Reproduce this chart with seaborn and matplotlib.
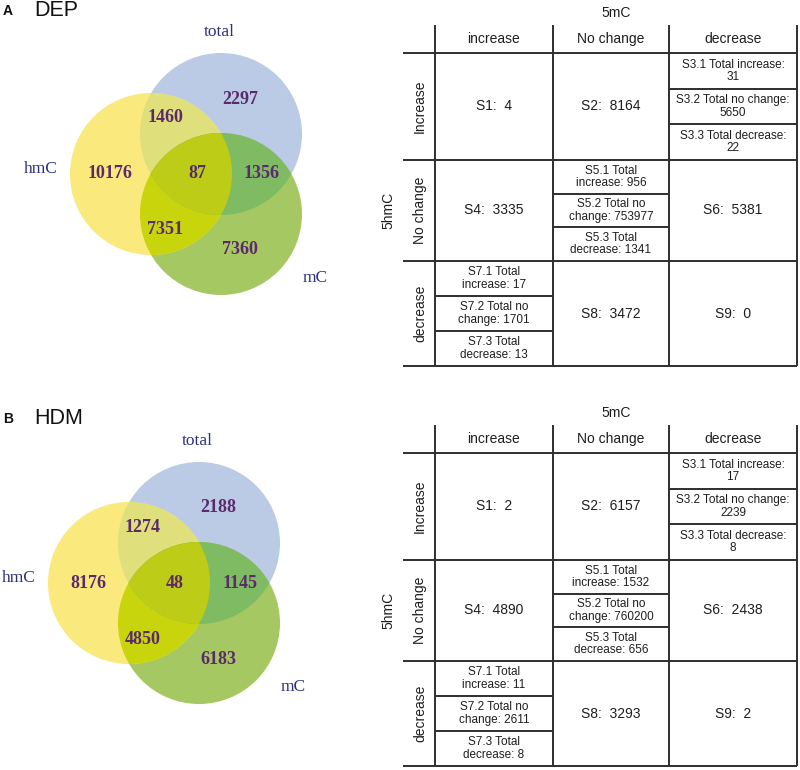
import matplotlib
matplotlib.use("Agg")
import numpy as np
import matplotlib.pyplot as plt
from matplotlib.patches import Circle, Polygon
import seaborn as sns

# ---------------- data ----------------
panel_letters = ["A", "B"]
panel_titles = ["DEP", "HDM"]
set_names = ["hmC", "total", "mC"]
# region order: hmC only, total only, mC only, hmC&total, hmC&mC, total&mC, all three
dep_venn = [10176, 2297, 7360, 1460, 7351, 1356, 87]
hdm_venn = [8176, 2188, 6183, 1274, 4850, 1145, 48]

col_header = "5mC"
row_header = "5hmC"
col_labels = ["increase", "No change", "decrease"]
row_labels = ["Increase", "No change", "decrease"]

dep_main = [4, 8164, 3335, 5381, 3472, 0]      # S1, S2, S4, S6, S8, S9
dep_s3 = [31, 5650, 22]
dep_s5 = [956, 753977, 1341]
dep_s7 = [17, 1701, 13]

hdm_main = [2, 6157, 4890, 2438, 3293, 2]
hdm_s3 = [17, 2239, 8]
hdm_s5 = [1532, 760200, 656]
hdm_s7 = [11, 2611, 8]

# ---------------- style ----------------
sns.set_theme(style="white")
SANS = ["Liberation Sans", "DejaVu Sans"]
SERIF = ["Liberation Serif", "DejaVu Serif"]
plt.rcParams["font.family"] = SANS

# region fill colours
col_y, col_b, col_g = sns.color_palette(["#fae97c", "#bbcbe6", "#a5c862"])
col_yb, col_yg, col_bg, col_all = sns.color_palette(["#dfdf7b", "#c8d40c", "#7ebb62", "#bdcc16"])
num_color = "#5a2a6c"
lab_color = "#2b3180"
line_color = "#2e2e2e"
txt_color = "#1e1e1e"

fig = plt.figure(figsize=(8, 7.7), dpi=100)
ax = fig.add_axes([0, 0, 1, 1])
ax.set_xlim(0, 800)
ax.set_ylim(770, 0)
ax.axis("off")

R = 81
# region label offsets relative to hmC circle centre
region_off = [(-41, 0), (89, -75), (89, 76), (14, -56), (14, 56), (111, 0), (46, 0)]


def lens(c1, c2, r):
    c1 = np.asarray(c1, float)
    c2 = np.asarray(c2, float)
    d = np.linalg.norm(c2 - c1)
    phi = np.arctan2(*(c2 - c1)[::-1])
    al = np.arccos(d / (2 * r))
    t1 = np.linspace(phi - al, phi + al, 200)
    t2 = np.linspace(phi + np.pi - al, phi + np.pi + al, 200)
    p1 = np.c_[c1[0] + r * np.cos(t1), c1[1] + r * np.sin(t1)]
    p2 = np.c_[c2[0] + r * np.cos(t2), c2[1] + r * np.sin(t2)]
    return np.vstack([p1, p2])


def draw_venn(anchor, counts):
    ax0, ay0 = anchor
    cy_ = (ax0, ay0)
    cb_ = (ax0 + 70, ay0 - 40)
    cg_ = (ax0 + 70, ay0 + 40)
    circ = {}
    for key, c, col in [("b", cb_, col_b), ("g", cg_, col_g), ("y", cy_, col_y)]:
        p = Circle(c, R, facecolor=col, edgecolor="none")
        ax.add_patch(p)
        circ[key] = (c, p)
    # pairwise overlaps: circle clipped by another circle
    for a, b, col in [("y", "b", col_yb), ("y", "g", col_yg), ("b", "g", col_bg)]:
        p = Circle(circ[a][0], R, facecolor=col, edgecolor="none")
        ax.add_patch(p)
        p.set_clip_path(circ[b][1])
    # triple overlap: yellow/blue lens clipped by green circle
    tri = Polygon(lens(cy_, cb_, R), closed=True, facecolor=col_all, edgecolor="none")
    ax.add_patch(tri)
    tri.set_clip_path(circ["g"][1])

    for (dx, dy), v in zip(region_off, counts):
        ax.text(ax0 + dx, ay0 + dy, str(v), ha="center", va="center",
                family=SERIF, fontweight="bold", fontsize=13, color=num_color)
    ax.text(ax0 - 110, ay0 - 5, set_names[0], ha="center", va="center",
            family=SERIF, fontsize=12.5, color=lab_color)
    ax.text(ax0 + 68, ay0 - 142, set_names[1], ha="center", va="center",
            family=SERIF, fontsize=12.5, color=lab_color)
    ax.text(ax0 + 164, ay0 + 104, set_names[2], ha="center", va="center",
            family=SERIF, fontsize=12.5, color=lab_color)


def draw_table(y0, main, s3, s5, s7):
    xs = [435, 553, 669, 797]
    xl = 403
    hh = 28
    rh = [107, 101, 105]
    ys = [y0, y0 + hh]
    for h in rh:
        ys.append(ys[-1] + h)
    lw = 1.4
    for x in xs:
        ax.plot([x, x], [ys[0], ys[-1]], color=line_color, lw=lw, solid_capstyle="butt")
    for y in ys[1:]:
        ax.plot([xl, xs[-1]], [y, y], color=line_color, lw=lw, solid_capstyle="butt")
    ax.text((xs[0] + xs[-1]) / 2, y0 - 12, col_header, ha="center", va="center",
            fontsize=10, color=txt_color)
    ax.text(388, (ys[2] + ys[3]) / 2, row_header, ha="center", va="center",
            fontsize=10, rotation=90, color=txt_color)
    for i, lab in enumerate(col_labels):
        ax.text((xs[i] + xs[i + 1]) / 2, (ys[0] + ys[1]) / 2, lab, ha="center",
                va="center", fontsize=10, color=txt_color)
    for j, lab in enumerate(row_labels):
        ax.text(420, (ys[j + 1] + ys[j + 2]) / 2, lab, ha="center", va="center",
                fontsize=10, rotation=90, color=txt_color)
    cells = [(0, 0, "S1"), (0, 1, "S2"), (1, 0, "S4"), (1, 2, "S6"), (2, 1, "S8"), (2, 2, "S9")]
    for (r, c, name), v in zip(cells, main):
        ax.text((xs[c] + xs[c + 1]) / 2, (ys[r + 1] + ys[r + 2]) / 2,
                f"{name}:  {v}", ha="center", va="center", fontsize=10, color=txt_color)
    subs = [
        (0, 2, "S3", s3, ["{n}.1 Total increase:\n{v}", "{n}.2 Total no change:\n{v}",
                          "{n}.3 Total decrease:\n{v}"]),
        (1, 1, "S5", s5, ["{n}.1 Total\nincrease: {v}", "{n}.2 Total no\nchange: {v}",
                          "{n}.3 Total\ndecrease: {v}"]),
        (2, 0, "S7", s7, ["{n}.1 Total\nincrease: {v}", "{n}.2 Total no\nchange: {v}",
                          "{n}.3 Total\ndecrease: {v}"]),
    ]
    for r, c, n, vals, fmts in subs:
        top, bot = ys[r + 1], ys[r + 2]
        step = (bot - top) / 3
        for k in range(1, 3):
            yy = top + k * step
            ax.plot([xs[c], xs[c + 1]], [yy, yy], color=line_color, lw=lw,
                    solid_capstyle="butt")
        for k, (v, f) in enumerate(zip(vals, fmts)):
            ax.text((xs[c] + xs[c + 1]) / 2, top + (k + 0.5) * step,
                    f.format(n=n, v=v), ha="center", va="center", fontsize=8.5,
                    linespacing=1.05, color=txt_color)


for (letter, title), y in zip(zip(panel_letters, panel_titles), [11, 419]):
    ax.text(3, y, letter, ha="left", va="center", fontsize=10, fontweight="bold",
            color="#111111")
    ax.text(34, y, title, ha="left", va="center", fontsize=15.5, color="#111111")

draw_venn((151, 174), dep_venn)
draw_venn((129, 583), hdm_venn)

draw_table(25, dep_main, dep_s3, dep_s5, dep_s7)
draw_table(425, hdm_main, hdm_s3, hdm_s5, hdm_s7)

fig.savefig("out.png", dpi=100)
